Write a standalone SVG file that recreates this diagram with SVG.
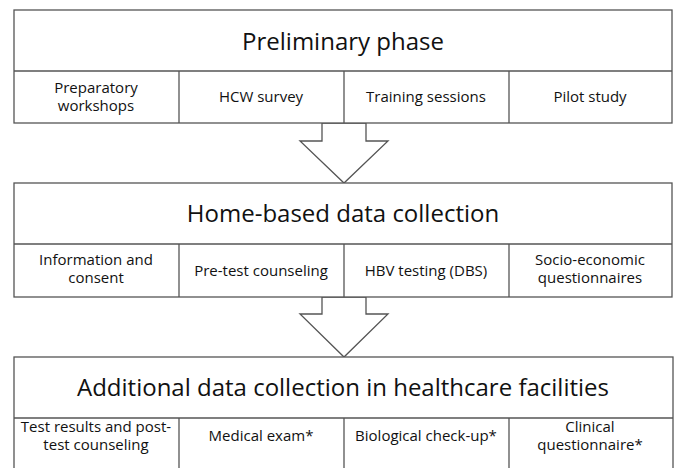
<svg xmlns="http://www.w3.org/2000/svg" width="677" height="468" viewBox="0 0 677 468">
<style>
.box{fill:#fff;stroke:#555;stroke-width:1.3}
.ln{stroke:#555;stroke-width:1.3}
.arrow{fill:#fff;stroke:#555;stroke-width:1.3;stroke-linejoin:miter}
.t{font-family:"Open Sans","Liberation Sans",sans-serif;font-size:24px;fill:#111;text-anchor:middle}
.c{font-family:"Open Sans","Liberation Sans",sans-serif;font-size:15px;fill:#111;text-anchor:middle}
</style>
<rect width="677" height="468" fill="#fff"/>
<g id="connectors">
<polygon class="arrow" points="322,123 322,141 300,141 344,183 388,141 366,141 366,123"/>
<polygon class="arrow" points="322,297 322,314 300,314 344,357 388,314 366,314 366,297"/>
</g>
<g id="preliminary">
<rect class="box" x="14" y="10" width="658" height="113"/>
<line class="ln" x1="14" y1="71" x2="672" y2="71"/>
<line class="ln" x1="179" y1="71" x2="179" y2="123"/>
<line class="ln" x1="344" y1="71" x2="344" y2="123"/>
<line class="ln" x1="509" y1="71" x2="509" y2="123"/>
<text class="t" x="343" y="50">Preliminary phase</text>
<text class="c" x="96" y="93">Preparatory</text>
<text class="c" x="96" y="111">workshops</text>
<text class="c" x="261" y="102">HCW survey</text>
<text class="c" x="426" y="102">Training sessions</text>
<text class="c" x="590" y="102">Pilot study</text>
</g>
<g id="home">
<rect class="box" x="14" y="183" width="658" height="114"/>
<line class="ln" x1="14" y1="244" x2="672" y2="244"/>
<line class="ln" x1="179" y1="244" x2="179" y2="297"/>
<line class="ln" x1="344" y1="244" x2="344" y2="297"/>
<line class="ln" x1="509" y1="244" x2="509" y2="297"/>
<text class="t" x="343" y="222">Home-based data collection</text>
<text class="c" x="96" y="265">Information and</text>
<text class="c" x="96" y="283">consent</text>
<text class="c" x="261" y="276">Pre-test counseling</text>
<text class="c" x="426" y="276">HBV testing (DBS)</text>
<text class="c" x="590" y="265">Socio-economic</text>
<text class="c" x="590" y="283">questionnaires</text>
</g>
<g id="facilities">
<rect class="box" x="14" y="357" width="659" height="130"/>
<line class="ln" x1="14" y1="418" x2="673" y2="418"/>
<line class="ln" x1="179" y1="418" x2="179" y2="468"/>
<line class="ln" x1="344" y1="418" x2="344" y2="468"/>
<line class="ln" x1="509" y1="418" x2="509" y2="468"/>
<text class="t" x="343" y="396">Additional data collection in healthcare facilities</text>
<text class="c" x="96" y="432">Test results and post-</text>
<text class="c" x="96" y="450">test counseling</text>
<text class="c" x="261" y="441">Medical exam*</text>
<text class="c" x="426" y="441">Biological check-up*</text>
<text class="c" x="590" y="432">Clinical</text>
<text class="c" x="590" y="450">questionnaire*</text>
</g>
</svg>
